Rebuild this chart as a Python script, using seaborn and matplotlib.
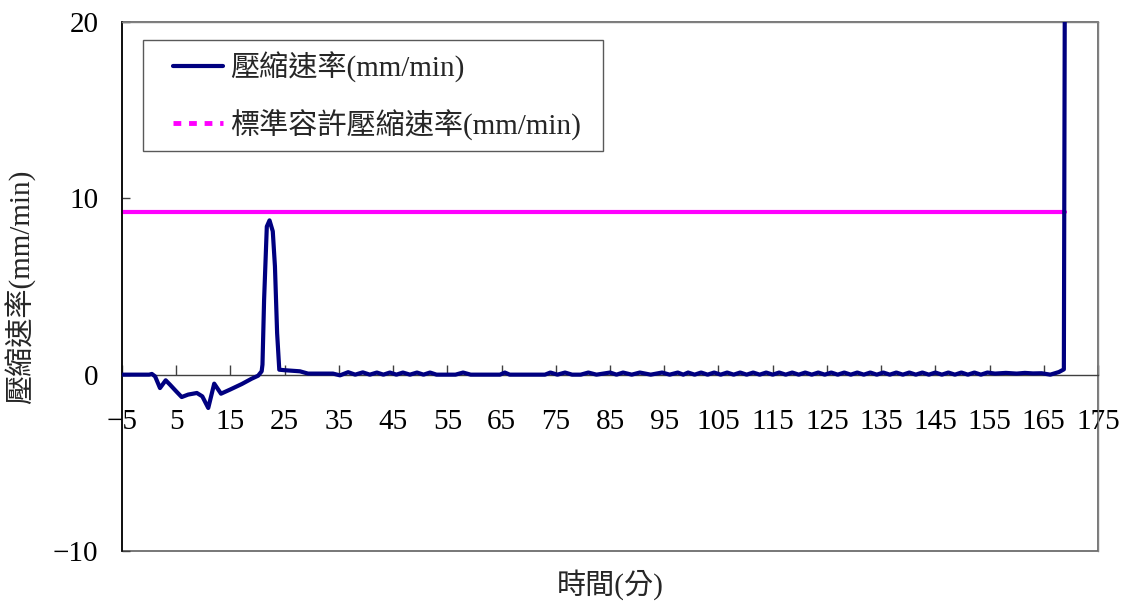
import matplotlib
matplotlib.use("Agg")
import matplotlib.pyplot as plt
from matplotlib.lines import Line2D
from matplotlib.legend_handler import HandlerLine2D
import seaborn as sns
import pandas as pd

# ---- data ----
time_min = [-5, 0, 0.5, 1.1, 2.0, 3.05, 3.85, 5.0, 6.0, 7.2, 8.8, 9.8, 10.9, 12.0, 13.25,
            14.9, 17.1, 18.9, 20.1, 20.75, 20.9, 21.2, 21.7, 22.2, 22.8, 23.2, 23.6, 24.0,
            25.05, 27.8, 29.3, 33.9, 35.2, 36.7, 38.0, 39.4, 40.7, 42.0, 43.2, 44.4, 45.6,
            46.8, 48.1, 49.4, 50.6, 51.8, 53.0, 56.5, 57.9, 59.3, 64.7, 65.6, 66.5, 73.0,
            74.0, 75.3, 76.7, 78.0, 79.6, 81.0, 82.5, 85.0, 86.2, 87.4, 89.0, 90.5, 92.5,
            94.6, 96.0, 97.5, 98.5, 99.4, 100.6, 101.8, 103.0, 104.2, 105.4, 106.6, 107.8,
            109.0, 110.2, 111.4, 112.6, 113.8, 115.0, 116.2, 117.4, 118.6, 119.8, 121.0,
            122.2, 123.4, 124.6, 125.8, 127.0, 128.2, 129.4, 130.6, 131.8, 133.0, 134.2,
            135.4, 136.6, 137.8, 139.0, 140.2, 141.4, 142.6, 143.8, 145.0, 146.2, 147.4,
            148.6, 149.8, 151.0, 152.2, 153.4, 154.6, 156.0, 158.0, 160.0, 161.5, 163.0,
            164.6, 166.2, 167.8, 168.7, 168.9]
rate_mm = [0.0, 0.0, 0.04, -0.1, -0.76, -0.32, -0.57, -0.95, -1.27, -1.13, -1.04, -1.23,
           -1.89, -0.51, -1.08, -0.85, -0.53, -0.23, -0.06, 0.19, 0.57, 4.25, 8.4, 8.75,
           8.13, 6.14, 2.36, 0.28, 0.25, 0.19, 0.06, 0.06, -0.04, 0.14, 0.0, 0.13, 0.0,
           0.12, 0.0, 0.12, 0.0, 0.12, 0.0, 0.12, 0.0, 0.12, 0.0, 0.0, 0.12, 0.0, 0.0,
           0.12, 0.0, 0.0, 0.12, 0.0, 0.12, 0.0, 0.0, 0.12, 0.0, 0.12, 0.0, 0.12, 0.0,
           0.12, 0.0, 0.12, 0.0, 0.12, 0.0, 0.12, 0.0, 0.12, 0.0, 0.12, 0.0, 0.12, 0.0,
           0.12, 0.0, 0.12, 0.0, 0.12, 0.0, 0.12, 0.0, 0.12, 0.0, 0.12, 0.0, 0.12, 0.0,
           0.12, 0.0, 0.12, 0.0, 0.12, 0.0, 0.12, 0.0, 0.12, 0.0, 0.12, 0.0, 0.12, 0.0,
           0.12, 0.0, 0.12, 0.0, 0.12, 0.0, 0.12, 0.0, 0.12, 0.0, 0.12, 0.06, 0.1, 0.06,
           0.1, 0.07, 0.08, 0.0, 0.15, 0.3, 25.0]

std_time = [-5, 168.9]
std_rate = [9.2, 9.2]

x_ticks = list(range(-5, 176, 10))
y_ticks = [-10, 0, 10, 20]

series_label = "壓縮速率(mm/min)"
std_label = "標準容許壓縮速率(mm/min)"
x_label = "時間(分)"
y_label = "壓縮速率(mm/min)"

# ---- style ----
sns.set_theme(style="white")
fam = ["Liberation Serif", "Noto Sans CJK TC", "DejaVu Sans"]
plt.rcParams["font.family"] = fam
plt.rcParams["axes.unicode_minus"] = True

df = pd.DataFrame({"time": time_min, "rate": rate_mm})
df_std = pd.DataFrame({"time": std_time, "rate": std_rate})

fig = plt.figure(figsize=(11.3, 6.06), dpi=100)
ax = fig.add_axes([0.108, 0.0908, 0.8637, 0.8729])

navy = "#000080"
magenta = "#FF00FF"

sns.lineplot(data=df_std, x="time", y="rate", color=magenta, linewidth=3,
             ax=ax, sort=False, estimator=None, zorder=2)
sns.lineplot(data=df, x="time", y="rate", color=navy, linewidth=3,
             ax=ax, sort=False, estimator=None, zorder=3)

ax.set_xlim(-5, 175)
ax.set_ylim(-10, 20)
ax.set_xticks(x_ticks)
ax.set_yticks(y_ticks)
ax.set_xticklabels([str(v).replace("-", "\u2212") for v in x_ticks])

ax.spines["bottom"].set_position(("data", 0))
ax.spines["bottom"].set_color("#404040")
ax.spines["bottom"].set_linewidth(1)
ax.spines["left"].set_color("black")
ax.spines["left"].set_linewidth(1.2)
for s in ["top", "right"]:
    ax.spines[s].set_color("#808080")
    ax.spines[s].set_linewidth(1)
ax.patch.set_edgecolor("#606060")
ax.patch.set_linewidth(1.2)

ax.tick_params(axis="x", direction="in", length=7, width=1, color="#404040",
               pad=25, labelsize=21, labelcolor="black")
ax.tick_params(axis="y", direction="in", length=6, width=1, color="#404040",
               pad=17, labelsize=21, labelcolor="black")
ax.tick_params(bottom=True, left=True)

ax.set_xlabel(x_label, fontsize=21, family=fam)
ax.set_ylabel(y_label, fontsize=21, family=fam)
ax.xaxis.set_label_coords(0.5, -0.035)
ax.yaxis.set_label_coords(-0.088, 0.5)

handles = [Line2D([], [], color=navy, linewidth=3),
           Line2D([], [], color=magenta, linewidth=3.5, linestyle=(0, (1.6, 1.6)))]
inset = HandlerLine2D(numpoints=2, marker_pad=0.64)
leg = ax.legend(handles, [series_label, std_label], loc="upper left",
                bbox_to_anchor=(0.0215, 0.966, 0.4713, 0.0), mode="expand",
                borderaxespad=0, frameon=True,
                fancybox=False, shadow=False, handlelength=2.98,
                handletextpad=-0.38, labelspacing=0.89, borderpad=0.39,
                prop={"family": fam, "size": 21},
                handler_map={Line2D: inset})
leg.get_frame().set_edgecolor("#303030")
leg.get_frame().set_linewidth(1)

fig.savefig("out.png", dpi=100)
